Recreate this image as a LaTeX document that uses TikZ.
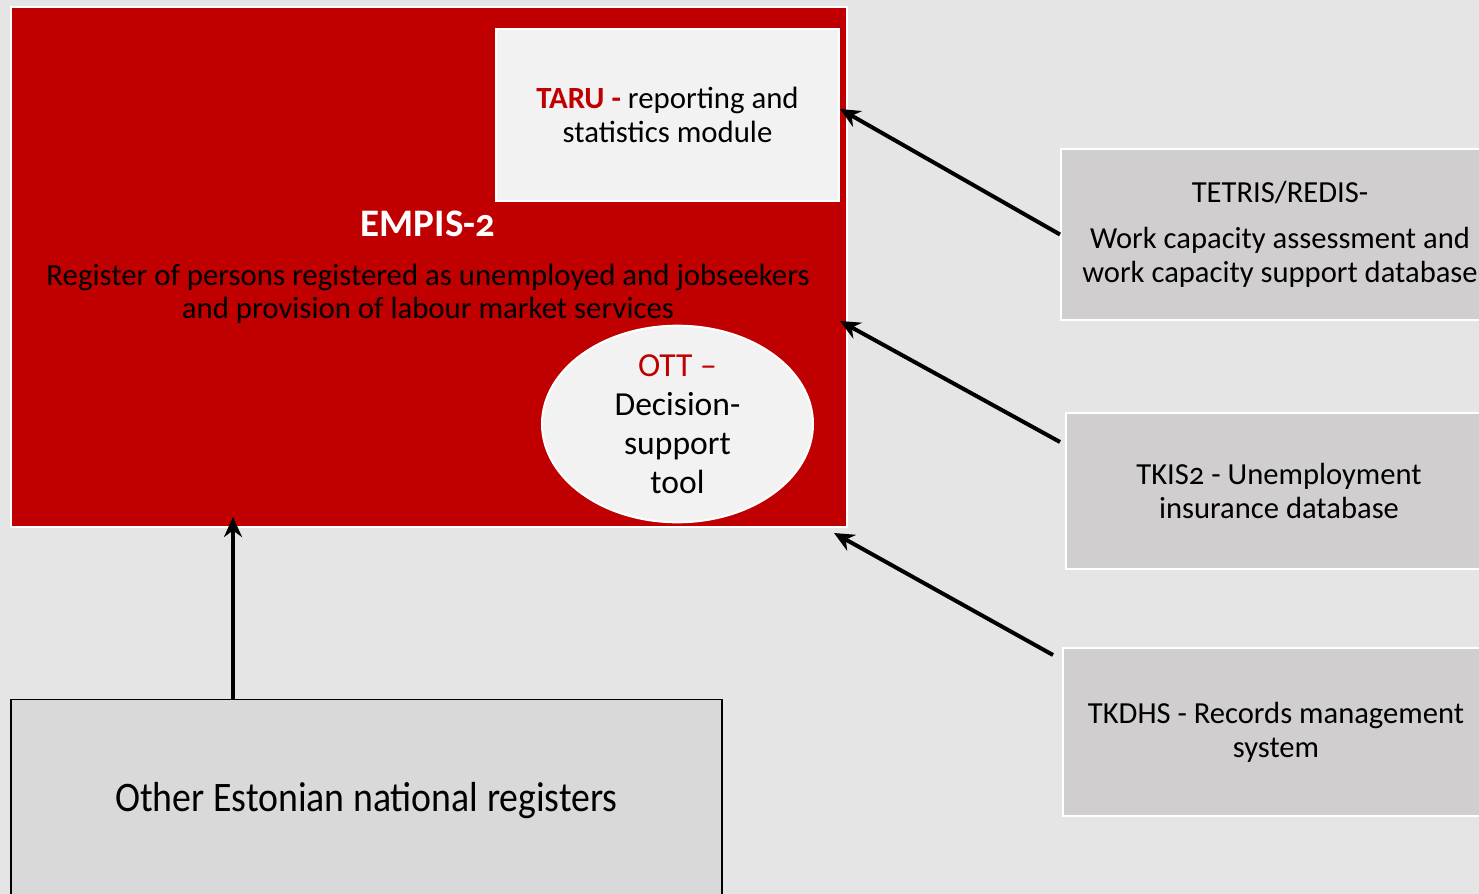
\documentclass[tikz,border=0pt]{standalone}
\usepackage{fontspec}
\setmainfont{Carlito}[Numbers=OldStyle]
\newfontfamily\narrowfont{Carlito}[FakeStretch=0.9]
\usetikzlibrary{arrows.meta, shapes.geometric}

\definecolor{empisred}{HTML}{C00000}
\definecolor{slidebg}{HTML}{E5E5E5}
\definecolor{paleface}{HTML}{F2F2F2}
\definecolor{dbgray}{HTML}{D0CECE}
\definecolor{reggray}{HTML}{D9D9D9}

\begin{document}
\begin{tikzpicture}[x=0.5pt, y=-0.5pt,
    block/.style={rectangle, draw=white, line width=1pt, inner sep=0pt, align=center},
    dbbox/.style={block, fill=dbgray, font=\fontsize{15.3}{17}\selectfont},
    link/.style={-{Stealth[length=10pt, width=9pt]}, line width=2pt}]

% Canvas
\useasboundingbox (0,0) rectangle (1479,894);
\clip (0,0) rectangle (1479,894);
\fill[slidebg] (0,0) rectangle (1479,894);

% EMPIS-2 main register
\node[block, fill=empisred, anchor=north west, minimum width=418pt, minimum height=260pt] (empis) at (10,6) {};
\node[text=white, font=\fontsize{19.5}{22}\selectfont\bfseries] (empistitle) at (428,224) {EMPIS-2};
\node[align=center, font=\fontsize{15.4}{16.5}\selectfont] (empisdesc) at (428,293.5)
    {Register of persons registered as unemployed and jobseekers\\and provision of labour market services};

% TARU module
\node[block, fill=paleface, minimum width=171.5pt, minimum height=86pt, font=\fontsize{15.4}{17}\selectfont] (taru) at (667.5,115)
    {\textcolor{empisred}{\bfseries TARU -} reporting and\\statistics module};

% OTT tool
\node[ellipse, draw=white, line width=1pt, fill=paleface, inner sep=0pt, minimum width=135.5pt, minimum height=97pt,
    align=center, font=\fontsize{16.8}{19.5}\selectfont] (ott) at (677.5,424)
    {\textcolor{empisred}{OTT --}\\Decision-\\support\\tool};

% Databases on the right
\node[dbbox, minimum width=219pt, minimum height=85.5pt] (tetris) at (1280,234.5)
    {TETRIS/REDIS-\\[6pt]Work capacity assessment and\\work capacity support database};
\node[dbbox, minimum width=213pt, minimum height=78pt] (tkis) at (1279,491)
    {TKIS2 - Unemployment\\insurance database};
\node[dbbox, minimum width=213pt, minimum height=84pt] (tkdhs) at (1276,732)
    {TKDHS - Records management\\system};

% Other registers
\node[rectangle, draw=black, line width=0.8pt, fill=reggray, minimum width=355.5pt, minimum height=101pt,
    font=\narrowfont\fontsize{21}{24}\selectfont] (others) at (366.5,800.5) {Other Estonian national registers};

% Arrow ends
\coordinate (taruin) at (840,109);
\coordinate (empisin) at (840,321);
\coordinate (cornerin) at (834,533);
\coordinate (tkisout) at (1060,442);
\coordinate (tkdhsout) at (1053,655);
\coordinate (othersout) at (233,699);
\coordinate (bottomin) at (233,517);

% Links
\draw[link] (tetris.west) -- (taruin);
\draw[link] (tkisout) -- (empisin);
\draw[link] (tkdhsout) -- (cornerin);
\draw[link] (othersout) -- (bottomin);

\end{tikzpicture}
\end{document}
